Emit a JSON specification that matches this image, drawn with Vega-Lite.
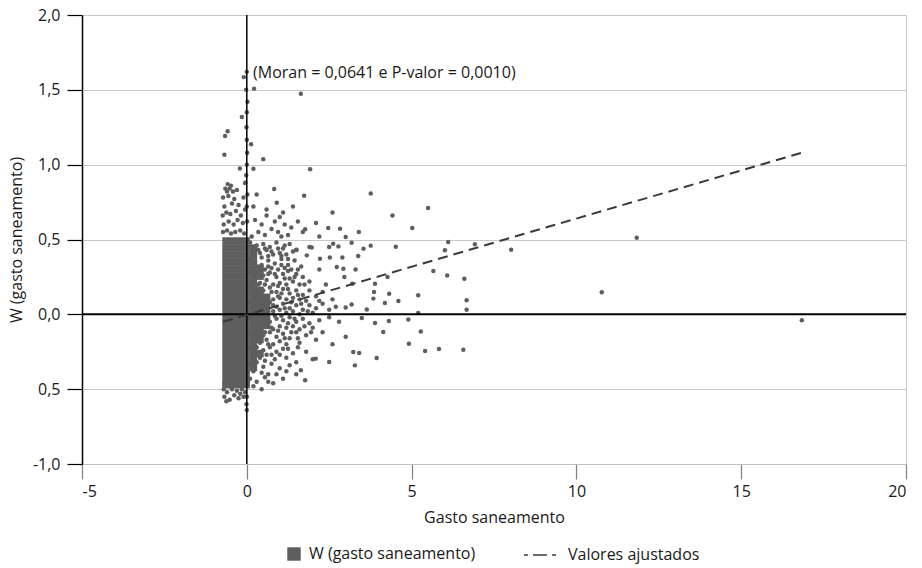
{
"$schema":"https://vega.github.io/schema/vega-lite/v6.json",
"width":824,"height":449,
"autosize":{"type":"none"},
"padding":{"left":82,"top":15,"right":16,"bottom":104},
"background":"#ffffff",
"config":{"view":{"stroke":"#c8c8c8","strokeWidth":1},"font":"Open Sans"},
"datasets":{
"blk":[
{"x":-0.63,"y":0.49},{"x":-0.63,"y":0.443},{"x":-0.63,"y":0.396},{"x":-0.63,"y":0.349},{"x":-0.63,"y":0.302},{"x":-0.63,"y":0.255},{"x":-0.63,"y":0.208},{"x":-0.63,"y":0.161},{"x":-0.63,"y":0.114},{"x":-0.63,"y":0.067},{"x":-0.63,"y":0.02},{"x":-0.63,"y":-0.027},{"x":-0.63,"y":-0.074},{"x":-0.63,"y":-0.121},{"x":-0.63,"y":-0.168},{"x":-0.63,"y":-0.215},{"x":-0.63,"y":-0.262},{"x":-0.63,"y":-0.309},{"x":-0.63,"y":-0.356},{"x":-0.63,"y":-0.403},{"x":-0.63,"y":-0.45},{"x":-0.63,"y":-0.47},
{"x":-0.43,"y":0.49},{"x":-0.43,"y":0.443},{"x":-0.43,"y":0.396},{"x":-0.43,"y":0.349},{"x":-0.43,"y":0.302},{"x":-0.43,"y":0.255},{"x":-0.43,"y":0.208},{"x":-0.43,"y":0.161},{"x":-0.43,"y":0.114},{"x":-0.43,"y":0.067},{"x":-0.43,"y":0.02},{"x":-0.43,"y":-0.027},{"x":-0.43,"y":-0.074},{"x":-0.43,"y":-0.121},{"x":-0.43,"y":-0.168},{"x":-0.43,"y":-0.215},{"x":-0.43,"y":-0.262},{"x":-0.43,"y":-0.309},{"x":-0.43,"y":-0.356},{"x":-0.43,"y":-0.403},{"x":-0.43,"y":-0.45},{"x":-0.43,"y":-0.47},
{"x":-0.22,"y":0.49},{"x":-0.22,"y":0.443},{"x":-0.22,"y":0.396},{"x":-0.22,"y":0.349},{"x":-0.22,"y":0.302},{"x":-0.22,"y":0.255},{"x":-0.22,"y":0.208},{"x":-0.22,"y":0.161},{"x":-0.22,"y":0.114},{"x":-0.22,"y":0.067},{"x":-0.22,"y":0.02},{"x":-0.22,"y":-0.027},{"x":-0.22,"y":-0.074},{"x":-0.22,"y":-0.121},{"x":-0.22,"y":-0.168},{"x":-0.22,"y":-0.215},{"x":-0.22,"y":-0.262},{"x":-0.22,"y":-0.309},{"x":-0.22,"y":-0.356},{"x":-0.22,"y":-0.403},{"x":-0.22,"y":-0.45},{"x":-0.22,"y":-0.47},
{"x":-0.02,"y":0.49},{"x":-0.02,"y":0.443},{"x":-0.02,"y":0.396},{"x":-0.02,"y":0.349},{"x":-0.02,"y":0.302},{"x":-0.02,"y":0.255},{"x":-0.02,"y":0.208},{"x":-0.02,"y":0.161},{"x":-0.02,"y":0.114},{"x":-0.02,"y":0.067},{"x":-0.02,"y":0.02},{"x":-0.02,"y":-0.027},{"x":-0.02,"y":-0.074},{"x":-0.02,"y":-0.121},{"x":-0.02,"y":-0.168},{"x":-0.02,"y":-0.215},{"x":-0.02,"y":-0.262},{"x":-0.02,"y":-0.309},{"x":-0.02,"y":-0.356},{"x":-0.02,"y":-0.403},{"x":-0.02,"y":-0.45},{"x":-0.02,"y":-0.47},
{"x":0.2,"y":0.443},{"x":0.2,"y":0.396},{"x":0.2,"y":0.349},{"x":0.2,"y":0.302},{"x":0.2,"y":0.255},{"x":0.2,"y":0.208},{"x":0.2,"y":0.161},{"x":0.2,"y":0.114},{"x":0.2,"y":0.067},{"x":0.2,"y":0.02},{"x":0.2,"y":-0.027},{"x":0.2,"y":-0.074},{"x":0.2,"y":-0.121},{"x":0.2,"y":-0.168},{"x":0.2,"y":-0.215},{"x":0.2,"y":-0.262},{"x":0.2,"y":-0.309},{"x":0.2,"y":-0.356},
{"x":0.4,"y":0.302},{"x":0.4,"y":0.255},{"x":0.4,"y":0.161},{"x":0.4,"y":0.114},{"x":0.4,"y":0.067},{"x":0.4,"y":0.02},{"x":0.4,"y":-0.027},{"x":0.4,"y":-0.074},{"x":0.4,"y":-0.121},{"x":0.4,"y":-0.168},{"x":0.4,"y":-0.262},
{"x":0.6,"y":0.114},{"x":0.6,"y":0.067},{"x":0.6,"y":0.02},{"x":0.6,"y":-0.027},{"x":0.6,"y":-0.074}
],
"pts":[
{"x":-0.72,"y":0.55},{"x":-0.6,"y":0.56},{"x":-0.48,"y":0.54},{"x":-0.35,"y":0.55},{"x":-0.2,"y":0.56},{"x":-0.08,"y":0.54},
{"x":-0.7,"y":0.6},{"x":-0.55,"y":0.62},{"x":-0.4,"y":0.6},{"x":-0.28,"y":0.63},{"x":-0.12,"y":0.61},
{"x":-0.73,"y":0.66},{"x":-0.62,"y":0.68},{"x":-0.5,"y":0.67},{"x":-0.33,"y":0.69},{"x":-0.18,"y":0.66},{"x":-0.05,"y":0.7},
{"x":-0.68,"y":0.72},{"x":-0.45,"y":0.74},{"x":-0.25,"y":0.73},{"x":-0.72,"y":0.78},{"x":-0.56,"y":0.79},{"x":-0.38,"y":0.77},{"x":-0.1,"y":0.78},
{"x":-0.65,"y":0.84},{"x":-0.48,"y":0.86},{"x":-0.3,"y":0.83},{"x":-0.58,"y":0.87},{"x":-0.42,"y":0.82},{"x":-0.05,"y":0.88},{"x":-0.6,"y":0.82},{"x":-0.52,"y":0.84},
{"x":-0.09,"y":1.585},{"x":0.22,"y":1.508},{"x":1.64,"y":1.474},{"x":-0.15,"y":1.318},{"x":-0.58,"y":1.224},{"x":-0.66,"y":1.191},{"x":0.0,"y":1.167},{"x":0.13,"y":1.136},{"x":-0.68,"y":1.067},{"x":0.5,"y":1.037},{"x":-0.21,"y":0.975},{"x":0.2,"y":0.973},{"x":1.92,"y":0.969},{"x":-0.05,"y":0.877},{"x":0.83,"y":0.837},{"x":1.74,"y":0.793},{"x":0.91,"y":0.746},
{"x":0.0,"y":1.62},{"x":-0.02,"y":1.5},{"x":0.02,"y":1.42},{"x":0.0,"y":1.35},{"x":-0.01,"y":1.25},{"x":0.01,"y":1.08},{"x":0.0,"y":1.0},{"x":-0.02,"y":0.93},{"x":0.02,"y":0.8},{"x":0.0,"y":0.72},{"x":0.01,"y":0.62},{"x":0.0,"y":-0.55},{"x":-0.01,"y":-0.6},{"x":0.0,"y":-0.64},
{"x":-0.7,"y":-0.5},{"x":-0.6,"y":-0.52},{"x":-0.45,"y":-0.5},{"x":-0.3,"y":-0.51},{"x":-0.15,"y":-0.5},{"x":-0.05,"y":-0.52},{"x":-0.68,"y":-0.55},{"x":-0.52,"y":-0.57},{"x":-0.38,"y":-0.54},{"x":-0.25,"y":-0.56},{"x":-0.1,"y":-0.55},{"x":-0.62,"y":-0.58},{"x":-0.2,"y":-0.53},
{"x":0.15,"y":0.52},{"x":0.35,"y":0.55},{"x":0.55,"y":0.53},{"x":0.75,"y":0.57},{"x":0.95,"y":0.55},{"x":1.15,"y":0.6},{"x":1.35,"y":0.58},{"x":1.55,"y":0.62},{"x":0.45,"y":0.6},{"x":0.25,"y":0.63},{"x":0.85,"y":0.62},{"x":1.05,"y":0.52},{"x":1.25,"y":0.53},{"x":1.7,"y":0.55},{"x":0.6,"y":0.66},{"x":1.0,"y":0.65},{"x":0.2,"y":0.72},{"x":0.6,"y":0.7},{"x":0.3,"y":0.8},{"x":1.1,"y":0.68},
{"x":0.1,"y":0.48},{"x":0.3,"y":0.46},{"x":0.5,"y":0.47},{"x":0.7,"y":0.45},{"x":0.9,"y":0.48},{"x":1.1,"y":0.44},{"x":1.3,"y":0.47},{"x":1.5,"y":0.43},{"x":0.2,"y":0.42},{"x":0.4,"y":0.41},{"x":0.6,"y":0.43},{"x":0.8,"y":0.4},{"x":1.0,"y":0.41},{"x":1.2,"y":0.4},{"x":1.4,"y":0.42},
{"x":0.1,"y":0.37},{"x":0.25,"y":0.35},{"x":0.45,"y":0.38},{"x":0.65,"y":0.36},{"x":0.85,"y":0.34},{"x":1.05,"y":0.37},{"x":1.25,"y":0.33},{"x":1.45,"y":0.36},{"x":1.65,"y":0.32},{"x":0.15,"y":0.31},{"x":0.35,"y":0.32},{"x":0.55,"y":0.3},{"x":0.75,"y":0.31},{"x":0.95,"y":0.3},{"x":1.15,"y":0.31},{"x":1.35,"y":0.3},
{"x":0.1,"y":0.28},{"x":0.3,"y":0.27},{"x":0.5,"y":0.26},{"x":0.7,"y":0.28},{"x":0.9,"y":0.25},{"x":1.1,"y":0.27},{"x":1.3,"y":0.24},{"x":1.5,"y":0.27},{"x":1.7,"y":0.25},{"x":1.9,"y":0.22},{"x":0.2,"y":0.22},{"x":0.4,"y":0.21},{"x":0.6,"y":0.23},{"x":0.8,"y":0.2},{"x":1.0,"y":0.21},{"x":1.2,"y":0.2},{"x":1.4,"y":0.22},{"x":1.6,"y":0.2},
{"x":0.1,"y":0.18},{"x":0.3,"y":0.17},{"x":0.5,"y":0.16},{"x":0.7,"y":0.18},{"x":0.9,"y":0.15},{"x":1.1,"y":0.17},{"x":1.3,"y":0.14},{"x":1.5,"y":0.16},{"x":1.7,"y":0.13},{"x":1.9,"y":0.16},{"x":2.1,"y":0.12},{"x":0.2,"y":0.12},{"x":0.4,"y":0.11},{"x":0.6,"y":0.12},{"x":0.8,"y":0.1},{"x":1.0,"y":0.11},{"x":1.2,"y":0.1},{"x":1.4,"y":0.11},{"x":1.6,"y":0.1},{"x":1.8,"y":0.09},{"x":2.3,"y":0.15},
{"x":0.1,"y":0.08},{"x":0.3,"y":0.07},{"x":0.5,"y":0.06},{"x":0.7,"y":0.08},{"x":0.9,"y":0.05},{"x":1.1,"y":0.07},{"x":1.3,"y":0.04},{"x":1.5,"y":0.06},{"x":1.7,"y":0.03},{"x":1.9,"y":0.06},{"x":2.1,"y":0.04},{"x":2.3,"y":0.07},{"x":2.5,"y":0.03},{"x":0.2,"y":0.02},{"x":0.4,"y":0.03},{"x":0.6,"y":0.01},{"x":0.8,"y":0.02},{"x":1.0,"y":0.03},{"x":1.2,"y":0.01},{"x":1.4,"y":0.02},{"x":1.6,"y":0.0},{"x":2.0,"y":0.01},{"x":2.7,"y":0.05},
{"x":0.1,"y":-0.03},{"x":0.3,"y":-0.04},{"x":0.5,"y":-0.02},{"x":0.7,"y":-0.05},{"x":0.9,"y":-0.03},{"x":1.1,"y":-0.04},{"x":1.3,"y":-0.02},{"x":1.5,"y":-0.05},{"x":1.7,"y":-0.03},{"x":1.9,"y":-0.06},{"x":2.2,"y":-0.04},{"x":0.2,"y":-0.08},{"x":0.4,"y":-0.09},{"x":0.6,"y":-0.07},{"x":0.8,"y":-0.1},{"x":1.0,"y":-0.08},{"x":1.2,"y":-0.09},{"x":1.4,"y":-0.08},{"x":1.6,"y":-0.1},{"x":2.0,"y":-0.09},{"x":2.5,"y":-0.02},
{"x":0.1,"y":-0.13},{"x":0.3,"y":-0.12},{"x":0.5,"y":-0.14},{"x":0.7,"y":-0.12},{"x":0.9,"y":-0.15},{"x":1.1,"y":-0.13},{"x":1.3,"y":-0.16},{"x":1.5,"y":-0.12},{"x":1.8,"y":-0.14},{"x":0.2,"y":-0.18},{"x":0.4,"y":-0.19},{"x":0.6,"y":-0.17},{"x":0.8,"y":-0.2},{"x":1.0,"y":-0.18},{"x":1.2,"y":-0.2},{"x":1.6,"y":-0.19},{"x":2.1,"y":-0.17},
{"x":0.1,"y":-0.23},{"x":0.3,"y":-0.22},{"x":0.5,"y":-0.24},{"x":0.7,"y":-0.22},{"x":0.9,"y":-0.25},{"x":1.1,"y":-0.23},{"x":1.4,"y":-0.26},{"x":0.2,"y":-0.28},{"x":0.4,"y":-0.29},{"x":0.6,"y":-0.27},{"x":0.85,"y":-0.3},{"x":1.2,"y":-0.29},{"x":1.8,"y":-0.25},
{"x":0.1,"y":-0.33},{"x":0.3,"y":-0.32},{"x":0.5,"y":-0.35},{"x":0.75,"y":-0.33},{"x":1.0,"y":-0.36},{"x":0.2,"y":-0.38},{"x":0.45,"y":-0.39},{"x":0.65,"y":-0.4},{"x":1.3,"y":-0.34},
{"x":0.1,"y":-0.43},{"x":0.3,"y":-0.45},{"x":0.55,"y":-0.42},{"x":0.8,"y":-0.46},{"x":0.2,"y":-0.48},{"x":0.45,"y":-0.5},{"x":1.1,"y":-0.43},
{"x":0.75,"y":0.15},{"x":0.8,"y":0.06},{"x":0.85,"y":-0.01},{"x":0.95,"y":0.12},{"x":0.75,"y":-0.09},{"x":0.55,"y":0.2},{"x":0.65,"y":0.27},{"x":0.35,"y":0.2},{"x":0.55,"y":-0.12},{"x":0.65,"y":-0.2},
{"x":0.15,"y":0.45},{"x":0.35,"y":0.43},{"x":0.55,"y":0.44},{"x":0.75,"y":0.42},{"x":0.95,"y":0.44},{"x":1.15,"y":0.46},{"x":0.25,"y":0.39},{"x":0.65,"y":0.39},{"x":1.05,"y":0.39},{"x":1.25,"y":0.37},
{"x":0.45,"y":0.33},{"x":0.65,"y":0.32},{"x":1.05,"y":0.33},{"x":1.25,"y":0.29},{"x":1.55,"y":0.3},{"x":0.85,"y":0.27},{"x":1.15,"y":0.24},{"x":1.45,"y":0.25},{"x":1.75,"y":0.2},
{"x":0.95,"y":0.19},{"x":1.25,"y":0.17},{"x":1.55,"y":0.13},{"x":1.05,"y":0.14},{"x":1.35,"y":0.08},{"x":1.65,"y":0.07},{"x":1.15,"y":0.04},{"x":1.85,"y":0.02},{"x":2.2,"y":0.09},
{"x":1.05,"y":-0.01},{"x":1.25,"y":-0.06},{"x":1.45,"y":-0.03},{"x":1.75,"y":-0.08},{"x":0.95,"y":-0.11},{"x":1.15,"y":-0.16},{"x":1.35,"y":-0.12},{"x":1.55,"y":-0.16},{"x":1.95,"y":-0.12},
{"x":0.75,"y":-0.27},{"x":1.0,"y":-0.27},{"x":1.25,"y":-0.23},{"x":1.55,"y":-0.22},{"x":0.55,"y":-0.31},{"x":0.9,"y":-0.4},{"x":0.65,"y":-0.45},{"x":1.5,"y":-0.4},{"x":1.2,"y":-0.38},
{"x":2.2,"y":0.3},{"x":2.4,"y":0.2},{"x":2.6,"y":0.1},{"x":2.8,"y":-0.05},{"x":2.3,"y":-0.12},{"x":2.6,"y":-0.2},{"x":2.0,"y":-0.3},{"x":1.5,"y":-0.32},{"x":2.9,"y":0.38},{"x":3.3,"y":0.3},{"x":2.5,"y":0.45},{"x":3.0,"y":-0.15},{"x":1.9,"y":0.45},{"x":2.2,"y":0.52},{"x":3.4,"y":0.55},{"x":1.4,"y":0.72},{"x":2.6,"y":0.68},
{"x":3.76,"y":0.808},{"x":5.5,"y":0.71},{"x":4.42,"y":0.661},{"x":5.02,"y":0.577},{"x":6.11,"y":0.483},{"x":6.92,"y":0.468},{"x":6.01,"y":0.428},{"x":4.52,"y":0.452},{"x":3.76,"y":0.459},{"x":3.54,"y":0.439},{"x":3.38,"y":0.39},{"x":5.66,"y":0.289},{"x":6.08,"y":0.26},{"x":6.6,"y":0.238},{"x":6.67,"y":0.094},{"x":6.67,"y":0.031},{"x":5.2,"y":0.127},{"x":5.2,"y":0.009},{"x":4.6,"y":0.089},{"x":4.32,"y":0.138},{"x":4.19,"y":0.075},{"x":3.86,"y":0.149},{"x":3.84,"y":0.105},{"x":4.27,"y":0.249},{"x":3.89,"y":0.205},{"x":4.9,"y":-0.035},{"x":5.28,"y":-0.114},{"x":4.92,"y":-0.196},{"x":5.41,"y":-0.245},{"x":5.83,"y":-0.232},{"x":6.57,"y":-0.236},{"x":4.14,"y":-0.118},{"x":3.89,"y":-0.058},{"x":4.31,"y":-0.045},{"x":3.23,"y":-0.252},{"x":3.41,"y":-0.258},{"x":3.94,"y":-0.292},{"x":3.28,"y":-0.341},{"x":2.5,"y":-0.318},{"x":2.09,"y":-0.296},{"x":1.77,"y":-0.441},{"x":1.64,"y":-0.374},{"x":3.18,"y":0.065},{"x":3.0,"y":0.045},{"x":3.49,"y":-0.025},{"x":3.64,"y":0.033},{"x":3.2,"y":0.205},{"x":2.96,"y":0.249},{"x":2.93,"y":0.305},{"x":2.73,"y":0.316},{"x":2.52,"y":0.379},{"x":2.22,"y":0.372},{"x":3.0,"y":0.516},{"x":2.83,"y":0.572},{"x":2.47,"y":0.577},{"x":2.1,"y":0.61},{"x":1.77,"y":0.568},{"x":3.18,"y":0.479},{"x":2.62,"y":0.472},{"x":2.78,"y":0.454},{"x":1.97,"y":0.446},{"x":1.82,"y":0.394},{"x":1.51,"y":0.432},{"x":8.02,"y":0.432},{"x":11.83,"y":0.512},{"x":10.77,"y":0.147},{"x":16.84,"y":-0.04}
],
"fit":[{"x":-0.72,"y":-0.05},{"x":16.84,"y":1.08}],
"ann":[{"x":0.19,"y":1.61,"t":"(Moran = 0,0641 e P-valor = 0,0010)"}],
"h0":[{"y":0}],
"v0":[{"x":0}]
},
"layer":[
{"data":{"name":"blk"},
 "mark":{"type":"point","shape":"square","filled":true,"size":56,"opacity":1,"strokeWidth":0},
 "encoding":{
  "x":{"field":"x","type":"quantitative","scale":{"domain":[-5,20],"nice":false,"zero":false},
   "axis":{"title":"Gasto saneamento","values":[-5,0,5,10,15,20],"grid":false,"domainColor":"#c0c0c0","tickColor":"#808080","tickSize":15,"tickWidth":1.2,"labelFontSize":16,"labelColor":"#1a1a1a","labelPadding":4,"labelExpr":"datum.value < 0 ? '-' + format(-datum.value,'d') : format(datum.value,'d')","titleFontSize":16,"titleFontWeight":"normal","titleColor":"#1a1a1a","titlePadding":10}},
  "y":{"field":"y","type":"quantitative","scale":{"domain":[-1,2],"nice":false,"zero":false},
   "axis":{"title":"W (gasto saneamento)","values":[-1,-0.5,0,0.5,1,1.5,2],"grid":true,"gridColor":"#c8c8c8","gridWidth":1,"domainColor":"#000000","domainWidth":1.5,"tickColor":"#000000","tickSize":15,"tickWidth":1.2,"labelFontSize":16,"labelColor":"#1a1a1a","labelPadding":7,"labelExpr":"datum.value < -0.75 ? '-1,0' : datum.value < 0 ? '0,5' : replace(format(datum.value,'.1f'),'.',',')","titleFontSize":16,"titleFontWeight":"normal","titleColor":"#1a1a1a","titlePadding":8}},
  "color":{"datum":"W (gasto saneamento)","type":"nominal","scale":{"range":["#5e5e5e"]},
   "legend":{"title":null,"orient":"none","legendX":204,"legendY":531,"symbolType":"square","symbolSize":180,"symbolStrokeWidth":0,"symbolOpacity":1,"labelFontSize":16,"labelFont":"Open Sans","labelColor":"#1a1a1a","labelOffset":7,"labelLimit":400,"padding":0}}
 }},
{"data":{"name":"pts"},
 "mark":{"type":"point","shape":"circle","filled":true,"size":20,"opacity":1,"strokeWidth":0},
 "encoding":{
  "x":{"field":"x","type":"quantitative"},
  "y":{"field":"y","type":"quantitative"},
  "color":{"datum":"W (gasto saneamento)","type":"nominal"}
 }},
{"data":{"name":"h0"},"mark":{"type":"rule","color":"#000000","strokeWidth":2},
 "encoding":{"y":{"field":"y","type":"quantitative"}}},
{"data":{"name":"v0"},"mark":{"type":"rule","color":"#000000","strokeWidth":1.5},
 "encoding":{"x":{"field":"x","type":"quantitative"}}},
{"data":{"name":"fit"},"mark":{"type":"line","color":"#3a3a3a","strokeWidth":2,"strokeDash":[10,6]},
 "encoding":{
  "x":{"field":"x","type":"quantitative"},
  "y":{"field":"y","type":"quantitative"},
  "opacity":{"datum":"Valores ajustados","type":"nominal","scale":{"range":[1]},
   "legend":{"title":null,"orient":"none","legendX":441,"legendY":521,"symbolType":"stroke","symbolSize":1300,"symbolStrokeColor":"#3a3a3a","symbolStrokeWidth":1.5,"symbolDash":[4,5,14,5,4,50],"labelFontSize":16,"labelFont":"Open Sans","labelColor":"#1a1a1a","labelOffset":7,"labelLimit":400,"padding":0}}
 }},
{"data":{"name":"ann"},"mark":{"type":"text","align":"left","baseline":"middle","fontSize":16,"font":"Open Sans","color":"#1a1a1a"},
 "encoding":{"x":{"field":"x","type":"quantitative"},"y":{"field":"y","type":"quantitative"},"text":{"field":"t"}}}
]
}
